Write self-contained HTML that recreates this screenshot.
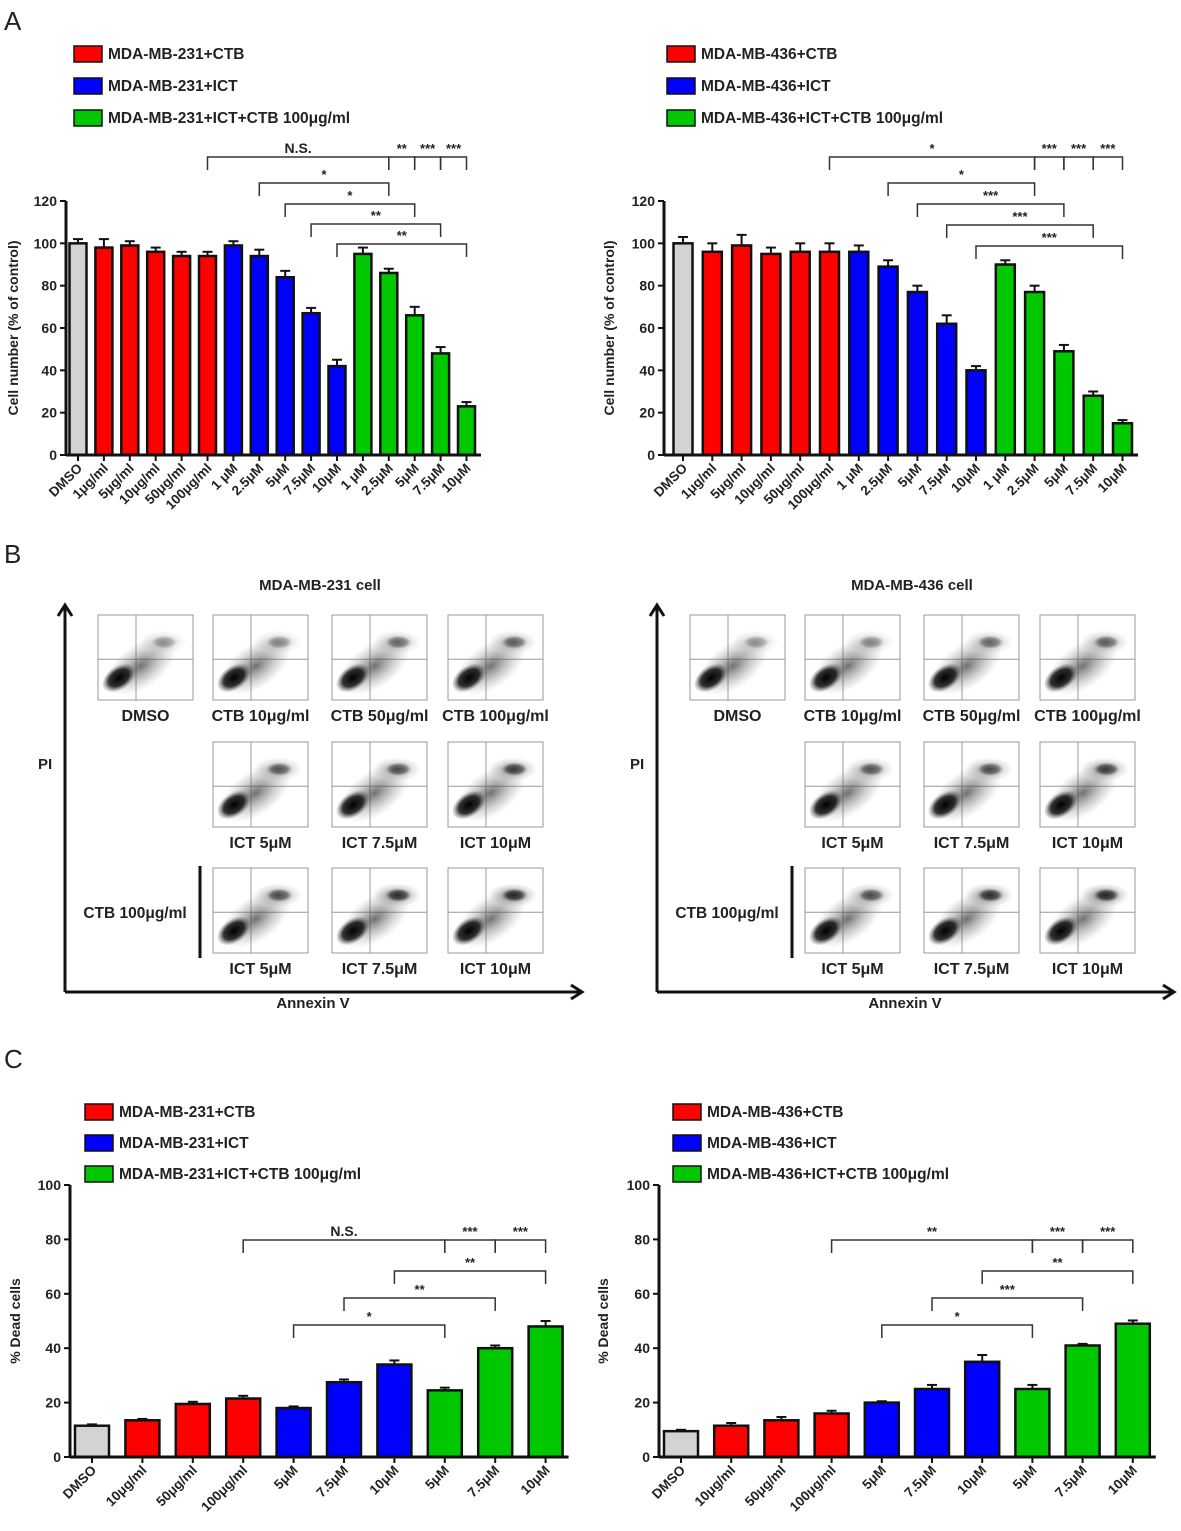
<!DOCTYPE html>
<html><head><meta charset="utf-8"><style>
body{margin:0;background:#fff}
svg text{font-family:"Liberation Sans",sans-serif;font-weight:bold;fill:#222}
</style></head><body>
<svg id="fig" xmlns="http://www.w3.org/2000/svg" width="1181" height="1526" viewBox="0 0 1181 1526">
<text x="4" y="30" font-size="26" style="font-weight:normal">A</text>
<text x="4" y="563" font-size="26" style="font-weight:normal">B</text>
<text x="4" y="1068" font-size="26" style="font-weight:normal">C</text>
</svg>
<script>
const NS="http://www.w3.org/2000/svg";
const svg=document.getElementById('fig');
const RED="#ff0000",BLUE="#0000ff",GREEN="#00c800",GREY="#d3d3d3";

// ---- Data ----
const catsA=["DMSO","1μg/ml","5μg/ml","10μg/ml","50μg/ml","100μg/ml","1 μM","2.5μM","5μM","7.5μM","10μM","1 μM","2.5μM","5μM","7.5μM","10μM"];
const groupA=[0,1,1,1,1,1,2,2,2,2,2,3,3,3,3,3];
const valsA231=[100,98,99,96,94,94,99,94,84,67,42,95,86,66,48,23];
const errsA231=[2,4,2,2,2,2,2,3,3,2.5,3,3,2,4,3,2];
const valsA436=[100,96,99,95,96,96,96,89,77,62,40,90,77,49,28,15];
const errsA436=[3,4,5,3,4,4,3,3,3,4,2,2,3,3,2,1.5];
const ticksA=[0,20,40,60,80,100,120];
const catsC=["DMSO","10μg/ml","50μg/ml","100μg/ml","5μM","7.5μM","10μM","5μM","7.5μM","10μM"];
const groupC=[0,1,1,1,2,2,2,3,3,3];
const valsC231=[11.5,13.5,19.5,21.5,18,27.5,34,24.5,40,48];
const errsC231=[0.5,0.5,0.8,1,0.6,1,1.5,1,1,2];
const valsC436=[9.5,11.5,13.5,16,20,25,35,25,41,49];
const errsC436=[0.5,1,1.2,1,0.5,1.5,2.5,1.5,0.6,1.2];
const ticksC=[0,20,40,60,80,100];

function el(tag,attrs,parent,text){const e=document.createElementNS(NS,tag);for(const k in attrs)e.setAttribute(k,attrs[k]);if(text!==undefined)e.textContent=text;(parent||svg).appendChild(e);return e;}

function chart(o){
  const g=el('g',{});
  
  
  const ys=v=>o.y0-(v/o.ymax)*(o.y0-o.yTop);
  const xs=i=>o.firstX+i*o.step;
  o.vals.forEach((v,i)=>{
    const cx=xs(i),top=ys(v),e=ys(v+o.errs[i]);
    const col=[GREY,RED,BLUE,GREEN][o.groups[i]];
    const eb=el('line',{x1:cx,x2:cx,y1:top,y2:e,stroke:'#111','stroke-width':2},g);
    
    
    el('line',{x1:cx-5,x2:cx+5,y1:e,y2:e,stroke:'#111','stroke-width':2},g);
    const r=el('rect',{x:cx-o.bw/2,y:top,width:o.bw,height:o.y0-top,fill:col,stroke:'#111','stroke-width':2.5},g);
    
    
    el('line',{x1:cx,x2:cx,y1:o.y0,y2:o.y0+6,stroke:'#111','stroke-width':2},g);
    const t=el('text',{x:0,y:0,'font-size':13.5,'text-anchor':'end',transform:`translate(${cx+5},${o.y0+14}) rotate(-45)`},g,o.cats[i]);
    
    
  });
  el('line',{x1:o.ax,x2:o.ax,y1:o.yTop,y2:o.y0,stroke:'#111','stroke-width':3},g);
  el('line',{x1:o.ax,x2:xs(o.vals.length-1)+o.bw/2+6,y1:o.y0,y2:o.y0,stroke:'#111','stroke-width':3},g);
  o.ticks.forEach(t=>{
    el('line',{x1:o.ax-6,x2:o.ax,y1:ys(t),y2:ys(t),stroke:'#111','stroke-width':2},g);
    const tl=el('text',{x:o.ax-9,y:ys(t)+5,'font-size':14,'text-anchor':'end'},g,t);
    
    
  });
  const yl=el('text',{x:0,y:0,'font-size':14,'text-anchor':'middle',transform:`translate(${o.ylx},${(o.y0+o.yTop)/2}) rotate(-90)`},g,o.ylabel);
  
  
  o.br.forEach(b=>{
    const x1=xs(b[0]),x2=xs(b[1]);
    const p=el('path',{d:`M${x1},${b[2]+13}V${b[2]}H${x2}V${b[2]+13}`,fill:'none',stroke:'#333','stroke-width':1.5},g);
    
    
    el('text',{x:(x1+x2)/2,y:b[2]-4,'font-size':b[3]=='N.S.'?14:13,'text-anchor':'middle'},g,b[3]);
  });
  o.leg.forEach((s,k)=>{
    const y=o.legY+k*o.legDy;
    const r=el('rect',{x:o.legX,y:y-8,width:28,height:16,fill:[RED,BLUE,GREEN][k],stroke:'#111','stroke-width':1.5},g);
    
    
    const t=el('text',{x:o.legX+34,y:y+5,'font-size':15.5},g,s);
    
    
  });
}

chart({name:'chart-a-mda231',vals:valsA231,errs:errsA231,cats:catsA,groups:groupA,ticks:ticksA,ymax:120,y0:455,yTop:201,ax:66,firstX:78,step:25.9,bw:17,ylabel:'Cell number (% of control)',ylx:18,
 br:[[5,12,157,'N.S.'],[12,13,157,'**'],[13,14,157,'***'],[14,15,157,'***'],[7,12,183,'*'],[8,13,204,'*'],[9,14,224,'**'],[10,15,244,'**']],
 leg:['MDA-MB-231+CTB','MDA-MB-231+ICT','MDA-MB-231+ICT+CTB 100μg/ml'],legX:74,legY:54,legDy:32});
chart({name:'chart-a-mda436',vals:valsA436,errs:errsA436,cats:catsA,groups:groupA,ticks:ticksA,ymax:120,y0:455,yTop:201,ax:664,firstX:683,step:29.3,bw:19,ylabel:'Cell number (% of control)',ylx:614,
 br:[[5,12,157,'*'],[12,13,157,'***'],[13,14,157,'***'],[14,15,157,'***'],[7,12,183,'*'],[8,13,204,'***'],[9,14,225,'***'],[10,15,246,'***']],
 leg:['MDA-MB-436+CTB','MDA-MB-436+ICT','MDA-MB-436+ICT+CTB 100μg/ml'],legX:667,legY:54,legDy:32});
chart({name:'chart-c-mda231',vals:valsC231,errs:errsC231,cats:catsC,groups:groupC,ticks:ticksC,ymax:100,y0:1457,yTop:1185,ax:70,firstX:92,step:50.4,bw:34,ylabel:'% Dead cells',ylx:20,
 br:[[3,7,1240,'N.S.'],[7,8,1240,'***'],[8,9,1240,'***'],[6,9,1271,'**'],[5,8,1298,'**'],[4,7,1325,'*']],
 leg:['MDA-MB-231+CTB','MDA-MB-231+ICT','MDA-MB-231+ICT+CTB 100μg/ml'],legX:85,legY:1112,legDy:31});
chart({name:'chart-c-mda436',vals:valsC436,errs:errsC436,cats:catsC,groups:groupC,ticks:ticksC,ymax:100,y0:1457,yTop:1185,ax:659,firstX:681,step:50.2,bw:34,ylabel:'% Dead cells',ylx:608,
 br:[[3,7,1240,'**'],[7,8,1240,'***'],[8,9,1240,'***'],[6,9,1271,'**'],[5,8,1298,'***'],[4,7,1325,'*']],
 leg:['MDA-MB-436+CTB','MDA-MB-436+ICT','MDA-MB-436+ICT+CTB 100μg/ml'],legX:673,legY:1112,legDy:31});

// ---- Panel B ----
const defs=el('defs',{});
const rg=el('radialGradient',{id:'blob'},defs);
el('stop',{offset:'0','stop-color':'#000','stop-opacity':'1'},rg);
el('stop',{offset:'0.6','stop-color':'#111','stop-opacity':'0.85'},rg);
el('stop',{offset:'1','stop-color':'#555','stop-opacity':'0'},rg);
const rg2=el('radialGradient',{id:'haze'},defs);
el('stop',{offset:'0','stop-color':'#333','stop-opacity':'0.7'},rg2);
el('stop',{offset:'1','stop-color':'#888','stop-opacity':'0'},rg2);

const flowTitles=[["DMSO","CTB 10μg/ml","CTB 50μg/ml","CTB 100μg/ml"],["ICT  5μM","ICT  7.5μM","ICT  10μM"],["ICT  5μM","ICT  7.5μM","ICT  10μM"]];
const upperDensity=[[0.4,0.45,0.6,0.65],[0.7,0.75,0.85],[0.75,0.95,1]];
function flowPanel(ox,title){
  const g=el('g',{});
  
  
  const cols=[ox+38,ox+153,ox+272,ox+388],rows=[615,742,868],W=95,H=85;
  flowTitles.forEach((row,r)=>row.forEach((t,c)=>{
    const col=r==0?c:c+1,x=cols[col],y=rows[r];
    const pg=el('g',{},g);
    
    
    el('rect',{x,y,width:W,height:H,fill:'#fff',stroke:'#999','stroke-width':1},pg);
    el('line',{x1:x+W*0.4,x2:x+W*0.4,y1:y,y2:y+H,stroke:'#999','stroke-width':1},pg);
    el('line',{x1:x,x2:x+W,y1:y+H*0.52,y2:y+H*0.52,stroke:'#999','stroke-width':1},pg);
    const d=upperDensity[r][c];
    el('ellipse',{cx:x+W*0.45,cy:y+H*0.6,rx:W*0.42,ry:H*0.26,fill:'url(#haze)',transform:`rotate(-35 ${x+W*0.45} ${y+H*0.6})`},pg);
    el('ellipse',{cx:x+W*0.68,cy:y+H*0.32,rx:W*0.26,ry:H*0.14,fill:'url(#haze)','fill-opacity':d},pg);
    el('ellipse',{cx:x+W*0.7,cy:y+H*0.32,rx:W*0.14,ry:H*0.08,fill:'url(#blob)','fill-opacity':d*0.7},pg);
    el('ellipse',{cx:x+W*0.22,cy:y+H*0.74,rx:W*0.2,ry:H*0.14,fill:'url(#blob)',transform:`rotate(-35 ${x+W*0.22} ${y+H*0.74})`},pg);
    const tl=el('text',{x:x+W/2,y:y+H+21,'font-size':16,'text-anchor':'middle'},g,t);
    
    
  }));
  const tt=el('text',{x:ox+260,y:590,'font-size':15,'text-anchor':'middle'},g,title);
  
  
  const ax=ox+5;
  el('path',{d:`M${ax},992V605M${ax-7},616L${ax},605L${ax+7},616`,fill:'none',stroke:'#111','stroke-width':3},g);
  el('path',{d:`M${ax},992H${ax+515}M${ax+506},985L${ax+517},992L${ax+506},999`,fill:'none',stroke:'#111','stroke-width':3},g);
  el('text',{x:ox-22,y:769,'font-size':15},g,'PI');
  el('text',{x:ox+253,y:1008,'font-size':15,'text-anchor':'middle'},g,'Annexin V');
  el('line',{x1:ox+140,x2:ox+140,y1:866,y2:958,stroke:'#111','stroke-width':3},g);
  el('text',{x:ox+75,y:918,'font-size':15.5,'text-anchor':'middle'},g,'CTB 100μg/ml');
}
flowPanel(60,'MDA-MB-231 cell');
flowPanel(652,'MDA-MB-436 cell');
</script>
</body></html>
